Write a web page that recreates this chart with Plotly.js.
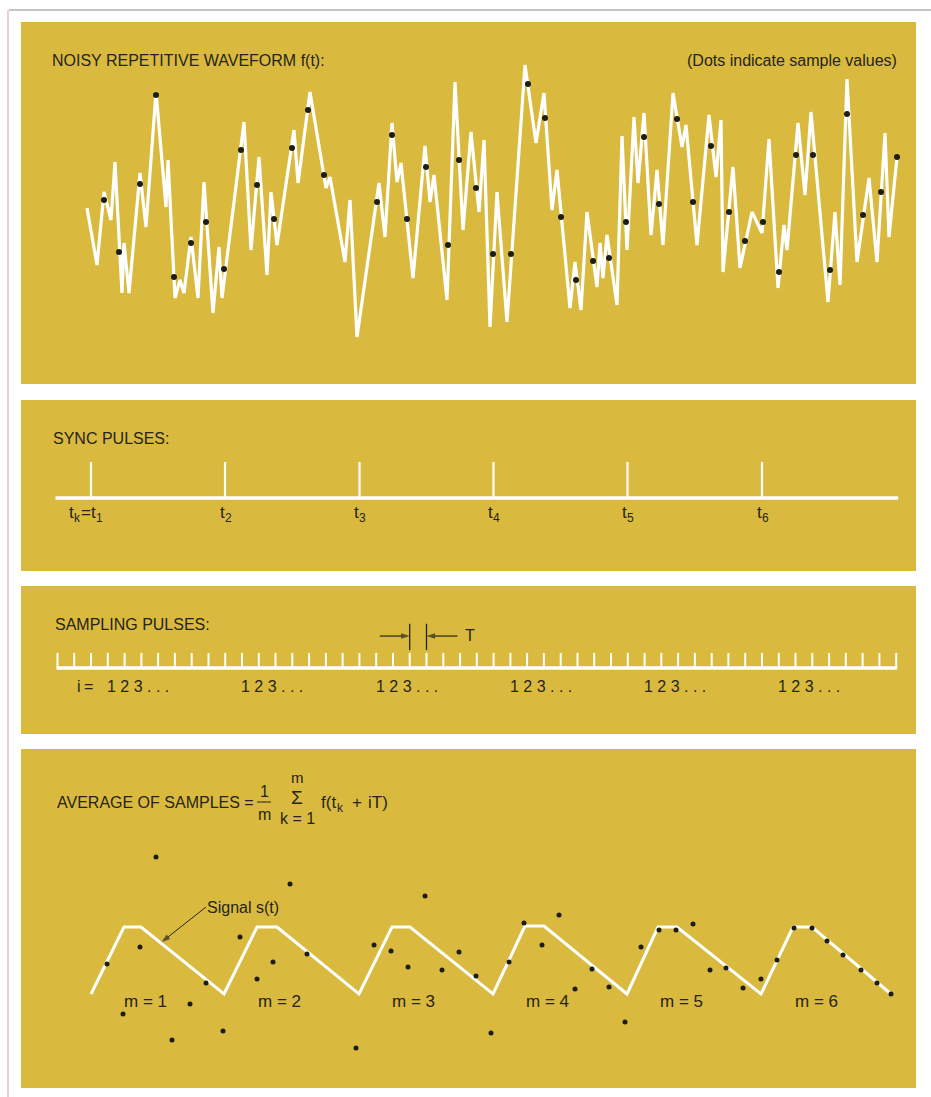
<!DOCTYPE html>
<html>
<head>
<meta charset="utf-8">
<script src="https://cdn.plot.ly/plotly-3.0.1.min.js"></script>
<style>html,body{margin:0;padding:0;background:#fff;overflow:hidden}</style>
</head>
<body>
<div id="chart" style="width:931px;height:1097px"></div>
<script>
// ---------- DATA ----------
// Panel 1: noisy repetitive waveform f(t)  (time units, amplitude units)
const waveT = [87,97,104,111,115,122,124,129,140,146,156,166,168,175,180,184,191,198,204,213,219,222,244,251,259,267,271,277,294,298,310,326,330,345,350,357,379,385,392,397,401,413,425,430,434,447,455,463,471,479,484,490,497,507,525,536,544,552,557,570,575,581,587,597,600,603,607,617,622,627,634,638,644,651,657,663,673,682,686,697,709,716,721,723,733,740,752,762,769,778,784,787,798,805,811,828,835,840,847,857,869,877,885,889,897];
const waveAmp = [2,-55,18,-10,48,-83,-33,-83,37,-17,118,3,50,-88,-70,-83,-27,-88,28,-103,-37,-88,88,-40,53,-65,18,-35,80,27,118,22,33,-52,10,-127,27,-27,87,28,47,-68,64,8,35,-90,128,-20,78,-2,70,-117,18,-112,145,67,117,0,40,-98,-52,-100,-2,-77,-33,-68,-25,-95,74,-40,93,27,97,-25,40,-35,117,63,85,-35,95,33,90,-62,43,-58,-2,-23,71,-78,-15,-40,87,15,98,-92,-2,-75,131,-52,32,-52,77,-27,53];
// sample values (dots) on the waveform
const dotT = [104,119,140,156,174,191,206,224,241,257,274,292,308,324,377,392,407,426,448,459,476,493,511,528,545,561,576,593,609,626,644,659,677,693,711,729,745,763,779,796,813,830,847,863,881,897];
const dotAmp = [10,-42,26,115,-67,-33,-12,-59,60,25,-9,62,100,35,8,75,-9,43,-35,50,22,-44,-44,126,92,-7,-70,-51,-48,-12,73,6,91,8,64,-2,-31,-12,-62,55,55,-60,96,-5,18,53];

// Panel 2: sync pulses
const syncTimes = [91,225,359.5,493.5,627.5,762];
const syncSubs = ['1','2','3','4','5','6'];

// Panel 3: sampling pulses
const samplingTimes = [57.5,74.2,91.0,107.8,124.6,141.4,158.1,174.9,191.7,208.5,225.2,242.0,258.8,275.5,292.3,309.1,325.9,342.6,359.4,376.2,393.0,409.7,426.5,443.3,460.1,476.8,493.6,510.4,527.1,543.9,560.7,577.5,594.2,611.0,627.8,644.6,661.3,678.1,694.9,711.7,728.4,745.2,762.0,778.8,795.5,812.3,829.1,845.8,862.6,879.4,896.2];
const groupLabel = '1 2 3 . . .';

// Panel 4: signal s(t) and averaged samples
const signalT = [91,124,141,224,257,277,359,392,410,493,525,544,627,658,677,761,793,812,891];
const signalAmp = [0,67,67,0,67,67,0,67,67,0,68,68,0,67,67,0,67,67,0];
const avgT = [107,123,140,156,172,190,206,223, 240,257,273,290,307,356, 374,391,408,425,442,459,476,491, 509,524,542,559,575,592,609,625, 641,659,676,693,710,726,743,761, 777,794,812,827,843,861,877,891];
const avgAmp = [30,-20,47,137,-46,-10,11,-37, 57,15,32,110,40,-54, 49,43,27,98,24,42,18,-39, 32,71,49,79,5,25,7,-28, 47,64,64,70,24,26,6,15, 34,66,66,53,39,24,11,0];
const mLabels = ['m = 1','m = 2','m = 3','m = 4','m = 5','m = 6'];

// ---------- STYLE / LAYOUT ----------
const W = 931, H = 1097;
const YEL = '#D9BA3F';
const INK = '#26241a';
const FONT = 'Liberation Sans, Arial, Helvetica, sans-serif';
const py = v => 1 - v / H;            // page pixel row -> paper fraction
const dom = (top, bot) => [py(bot), py(top)];

const panels = [
  {top: 22, bot: 384}, {top: 400, bot: 571}, {top: 586, bot: 734}, {top: 749, bot: 1088}
];

function segs(xs, y0, y1) {
  const X = [], Y = [];
  xs.forEach(x => { X.push(x, x, null); Y.push(y0, y1, null); });
  return {X, Y};
}
const pulses = segs(syncTimes, 0, 1);
const ticks = segs(samplingTimes, 0, 1);

function arrowTrace(x0, y0, x1, y1, yaxis, w) {
  return {x: [x0, x1], y: [y0, y1], xaxis: 'x', yaxis, mode: 'lines+markers',
    line: {color: INK, width: w},
    marker: {symbol: 'arrow', size: [0, 9], angleref: 'previous', color: INK, line: {width: 0}}};
}

const traces = [
  {x: waveT, y: waveAmp, xaxis: 'x', yaxis: 'y', mode: 'lines',
   line: {color: '#ffffff', width: 3.2}},
  {x: dotT, y: dotAmp, xaxis: 'x', yaxis: 'y', mode: 'markers',
   marker: {color: '#1c1c18', size: 6}},
  {x: pulses.X, y: pulses.Y, xaxis: 'x', yaxis: 'y2', mode: 'lines',
   line: {color: '#ffffff', width: 2.2}},
  {x: [samplingTimes[0] - 2, samplingTimes[samplingTimes.length - 1] + 2], y: [0, 0], xaxis: 'x', yaxis: 'y2', mode: 'lines',
   line: {color: '#ffffff', width: 3.5}},
  {x: ticks.X, y: ticks.Y, xaxis: 'x', yaxis: 'y3', mode: 'lines',
   line: {color: '#ffffff', width: 2}},
  {x: [samplingTimes[0] - 1, samplingTimes[samplingTimes.length - 1] + 1], y: [0, 0], xaxis: 'x', yaxis: 'y3', mode: 'lines',
   line: {color: '#ffffff', width: 3.5}},
  {x: signalT, y: signalAmp, xaxis: 'x', yaxis: 'y4', mode: 'lines',
   line: {color: '#ffffff', width: 3}},
  {x: avgT, y: avgAmp, xaxis: 'x', yaxis: 'y4', mode: 'markers',
   marker: {color: '#1c1c18', size: 5}},
  // pointer arrows
  arrowTrace(206, 87, 161.7, 52, 'y4', 1),
  arrowTrace(samplingTimes[21] - 30, 2.13, samplingTimes[21], 2.13, 'y3', 1.2),
  arrowTrace(samplingTimes[22] + 31, 2.13, samplingTimes[22], 2.13, 'y3', 1.2)
];

const txt = (text, x, y, opts = {}) => {
  const size = opts.size || 16;
  delete opts.size;
  return Object.assign({
    text, x, y, xref: 'x', yref: 'paper', showarrow: false,
    xanchor: 'left', yanchor: 'middle', borderpad: 0, borderwidth: 0,
    font: {family: FONT, size, color: INK}
  }, opts);
};

const annotations = [
  txt('NOISY REPETITIVE WAVEFORM f(t):', 52, py(60)),
  txt('(Dots indicate sample values)', 897, py(60), {xanchor: 'right'}),
  txt('SYNC PULSES:', 53, py(438)),
  txt('SAMPLING PULSES:', 55, py(624)),
  txt('T', 465, py(635)),
  txt('AVERAGE OF SAMPLES =', 57, py(802)),
  txt('1', 264, py(791), {xanchor: 'center'}),
  txt('m', 264, py(814), {xanchor: 'center'}),
  txt('m', 297, py(777), {xanchor: 'center', size: 15}),
  txt('\u03A3', 297, py(797), {xanchor: 'center', size: 19}),
  txt('k = 1', 297, py(818), {xanchor: 'center'}),
  txt('f(t', 321, py(802), {size: 17}),
  txt('k', 336.5, py(808), {size: 12}),
  txt('+', 357, py(802), {xanchor: 'center', size: 17}),
  txt('iT)', 368, py(802), {size: 17}),
  txt('Signal s(t)', 207, py(907)),
  // "t_k =" prefix of the first sync label
  txt('t', syncTimes[0] - 17, py(512), {xanchor: 'right', size: 17}),
  txt('k', syncTimes[0] - 16.7, py(518), {size: 12}),
  txt('=', syncTimes[0] - 10, py(512), {size: 17}),
  // "i =" prefix of the first sample-index label
  txt('i', 77, py(686)),
  txt('=', 84, py(686))
];
syncTimes.forEach((t, k) => {
  const off = k === 0 ? 5 : -0.5;
  annotations.push(txt('t', t + off, py(512), {xanchor: 'right', size: 17}));
  annotations.push(txt(syncSubs[k], t + off + 0.4, py(518), {size: 12}));
});
syncTimes.forEach((t, k) => annotations.push(txt(groupLabel, t + 16, py(686))));
mLabels.forEach((m, k) => annotations.push(txt(m, syncTimes[k] + 54, py(1001), {xanchor: 'center', size: 17})));

const shapes = [];
panels.forEach((p, i) => shapes.push({
  type: 'rect', xref: 'x', yref: (i === 0 ? 'y' : 'y' + (i + 1)) + ' domain',
  x0: 21, x1: 916, y0: 0, y1: 1, fillcolor: YEL, line: {width: 0}, layer: 'below'
}));
// thin page border lines
shapes.push({type: 'line', xref: 'x', yref: 'paper', x0: 9, x1: 931, y0: py(10), y1: py(10), line: {color: '#8a8a8a', width: 1}});
shapes.push({type: 'line', xref: 'x', yref: 'paper', x0: 8, x1: 8, y0: py(10), y1: 0, line: {color: '#d7a0b0', width: 1}});
// fraction bar
shapes.push({type: 'line', xref: 'x', yref: 'paper', x0: 257, x1: 271, y0: py(802), y1: py(802), line: {color: INK, width: 1}});
// T marker lines
[21, 22].forEach(i => shapes.push({type: 'line', xref: 'x', yref: 'y3', x0: samplingTimes[i], x1: samplingTimes[i], y0: 1.2, y1: 2.95, line: {color: INK, width: 1.3}}));

const hidden = {visible: false, showgrid: false, zeroline: false, fixedrange: true};
const layout = {
  width: W, height: H,
  margin: {l: 0, r: 0, t: 0, b: 0, pad: 0},
  paper_bgcolor: '#ffffff', plot_bgcolor: 'rgba(0,0,0,0)',
  showlegend: false, hovermode: false,
  xaxis: Object.assign({domain: [0, 1], range: [0, W], anchor: 'y'}, hidden),
  yaxis: Object.assign({domain: dom(panels[0].top, panels[0].bot), range: [-174, 188], anchor: 'x'}, hidden),
  yaxis2: Object.assign({domain: dom(panels[1].top, panels[1].bot), range: [-2.028, 2.722], anchor: 'x'}, hidden),
  yaxis3: Object.assign({domain: dom(panels[2].top, panels[2].bot), range: [-4.4, 5.467], anchor: 'x'}, hidden),
  yaxis4: Object.assign({domain: dom(panels[3].top, panels[3].bot), range: [-94, 245], anchor: 'x'}, hidden),
  shapes, annotations
};

Plotly.newPlot('chart', traces, layout, {staticPlot: true, displayModeBar: false});
</script>
</body>
</html>
